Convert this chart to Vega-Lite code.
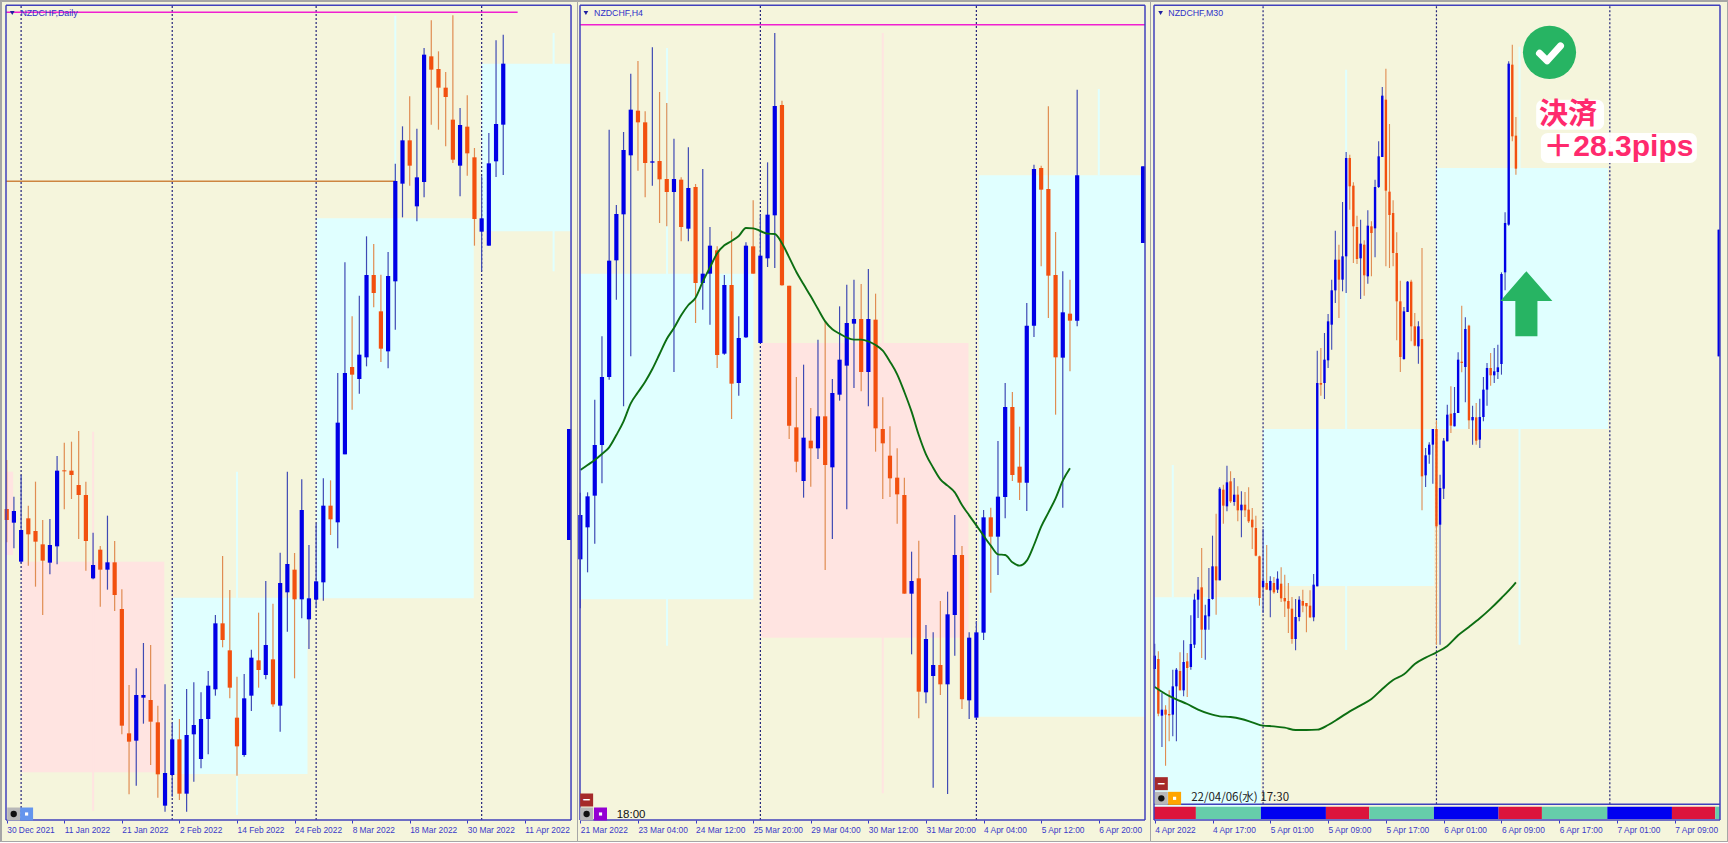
{"$schema":"https://vega.github.io/schema/vega-lite/v6.json","padding":0,"background":"#A6A6A6","spacing":0,"bounds":"flush","config":{"view":{"fill":"#F5F5DC","stroke":"#A6A6A6","strokeWidth":1}},
"datasets":{
"c1":[{"i":0,"o":933,"h":1080,"l":833,"c":900},{"i":1,"o":892,"h":970,"l":815,"c":927},{"i":2,"o":775,"h":1035,"l":770,"c":870},{"i":3,"o":905,"h":943,"l":763,"c":857},{"i":4,"o":867,"h":1015,"l":700,"c":835},{"i":5,"o":827,"h":900,"l":615,"c":778},{"i":6,"o":772,"h":903,"l":737,"c":825},{"i":7,"o":821,"h":1092,"l":767,"c":1048},{"i":8,"o":1049,"h":1132,"l":932,"c":1046},{"i":9,"o":1048,"h":1135,"l":963,"c":1035},{"i":10,"o":1005,"h":1167,"l":843,"c":975},{"i":11,"o":975,"h":1015,"l":748,"c":837},{"i":12,"o":725,"h":862,"l":722,"c":765},{"i":13,"o":811,"h":822,"l":640,"c":751},{"i":14,"o":751,"h":913,"l":691,"c":773},{"i":15,"o":773,"h":837,"l":627,"c":675},{"i":16,"o":633,"h":692,"l":257,"c":283},{"i":17,"o":260,"h":405,"l":77,"c":235},{"i":18,"o":238,"h":455,"l":103,"c":375},{"i":19,"o":367,"h":531,"l":289,"c":375},{"i":20,"o":360,"h":525,"l":165,"c":295},{"i":21,"o":293,"h":343,"l":67,"c":137},{"i":22,"o":43,"h":407,"l":25,"c":141},{"i":23,"o":135,"h":292,"l":70,"c":242},{"i":24,"o":242,"h":303,"l":60,"c":79},{"i":25,"o":79,"h":393,"l":25,"c":255},{"i":26,"o":257,"h":413,"l":115,"c":285},{"i":27,"o":183,"h":383,"l":155,"c":303},{"i":28,"o":303,"h":447,"l":197,"c":403},{"i":29,"o":392,"h":615,"l":373,"c":590},{"i":30,"o":590,"h":792,"l":518,"c":540},{"i":31,"o":509,"h":690,"l":365,"c":397},{"i":32,"o":307,"h":430,"l":133,"c":221},{"i":33,"o":195,"h":438,"l":190,"c":365},{"i":34,"o":373,"h":511,"l":327,"c":487},{"i":35,"o":479,"h":622,"l":397,"c":450},{"i":36,"o":435,"h":717,"l":422,"c":525},{"i":37,"o":482,"h":649,"l":340,"c":347},{"i":38,"o":343,"h":802,"l":265,"c":711},{"i":39,"o":683,"h":1045,"l":565,"c":768},{"i":40,"o":751,"h":801,"l":425,"c":662},{"i":41,"o":662,"h":1022,"l":605,"c":930},{"i":42,"o":602,"h":825,"l":513,"c":665},{"i":43,"o":661,"h":889,"l":635,"c":716},{"i":44,"o":713,"h":1025,"l":658,"c":943},{"i":45,"o":943,"h":1019,"l":855,"c":902},{"i":46,"o":893,"h":1341,"l":815,"c":1192},{"i":47,"o":1097,"h":1673,"l":1097,"c":1341},{"i":48,"o":1359,"h":1511,"l":1231,"c":1336},{"i":49,"o":1323,"h":1573,"l":1279,"c":1396},{"i":50,"o":1388,"h":1751,"l":1361,"c":1635},{"i":51,"o":1635,"h":1728,"l":1538,"c":1581},{"i":52,"o":1526,"h":1636,"l":1374,"c":1414},{"i":53,"o":1406,"h":1704,"l":1355,"c":1632},{"i":54,"o":1616,"h":1969,"l":1471,"c":1917},{"i":55,"o":1909,"h":2081,"l":1808,"c":2039},{"i":56,"o":2039,"h":2171,"l":1903,"c":1963},{"i":57,"o":1841,"h":2074,"l":1796,"c":1928},{"i":58,"o":1914,"h":2316,"l":1868,"c":2296},{"i":59,"o":2291,"h":2399,"l":2086,"c":2251},{"i":60,"o":2253,"h":2306,"l":2071,"c":2197},{"i":61,"o":2197,"h":2244,"l":2021,"c":2169},{"i":62,"o":2101,"h":2414,"l":1971,"c":1981},{"i":63,"o":1963,"h":2136,"l":1871,"c":2085},{"i":64,"o":2080,"h":2174,"l":1933,"c":2000},{"i":65,"o":1988,"h":2016,"l":1723,"c":1803},{"i":66,"o":1765,"h":1931,"l":1646,"c":1805},{"i":67,"o":1723,"h":2061,"l":1723,"c":1970},{"i":68,"o":1976,"h":2339,"l":1929,"c":2088},{"i":69,"o":2086,"h":2356,"l":1935,"c":2269},{"i":78.15,"o":840,"h":1173,"l":840,"c":1173}],
"c2":[{"i":0,"o":782,"h":982,"l":635,"c":915},{"i":1,"o":878,"h":983,"l":743,"c":971},{"i":2,"o":973,"h":1261,"l":829,"c":1125},{"i":3,"o":1125,"h":1451,"l":1010,"c":1329},{"i":4,"o":1329,"h":2071,"l":1321,"c":1678},{"i":5,"o":1679,"h":1845,"l":1561,"c":1818},{"i":6,"o":1817,"h":2064,"l":1241,"c":2010},{"i":7,"o":1994,"h":2239,"l":1391,"c":2131},{"i":8,"o":2128,"h":2277,"l":1948,"c":2093},{"i":9,"o":2093,"h":2126,"l":1868,"c":1971},{"i":10,"o":1972,"h":2318,"l":1903,"c":1976},{"i":11,"o":1977,"h":2184,"l":1791,"c":1922},{"i":12,"o":1923,"h":2151,"l":1781,"c":1884},{"i":13,"o":1884,"h":2044,"l":1344,"c":1923},{"i":14,"o":1921,"h":1928,"l":1736,"c":1779},{"i":15,"o":1774,"h":2018,"l":1736,"c":1896},{"i":16,"o":1899,"h":1908,"l":1491,"c":1611},{"i":17,"o":1611,"h":1953,"l":1531,"c":1639},{"i":18,"o":1639,"h":1779,"l":1486,"c":1723},{"i":19,"o":1709,"h":1721,"l":1356,"c":1395},{"i":20,"o":1399,"h":1635,"l":1396,"c":1605},{"i":21,"o":1605,"h":1766,"l":1203,"c":1309},{"i":22,"o":1311,"h":1511,"l":1273,"c":1446},{"i":23,"o":1448,"h":1733,"l":1446,"c":1723},{"i":24,"o":1721,"h":1859,"l":1639,"c":1639},{"i":25,"o":1431,"h":1816,"l":1431,"c":1693},{"i":26,"o":1685,"h":1973,"l":1659,"c":1816},{"i":27,"o":1814,"h":2361,"l":1656,"c":2142},{"i":28,"o":2145,"h":2158,"l":1603,"c":1604},{"i":29,"o":1603,"h":1603,"l":1143,"c":1183},{"i":30,"o":1178,"h":1329,"l":1043,"c":1075},{"i":31,"o":1017,"h":1366,"l":967,"c":1147},{"i":32,"o":1138,"h":1236,"l":1000,"c":1115},{"i":33,"o":1115,"h":1441,"l":1083,"c":1211},{"i":34,"o":1211,"h":1496,"l":750,"c":1065},{"i":35,"o":1058,"h":1323,"l":843,"c":1281},{"i":36,"o":1276,"h":1541,"l":1258,"c":1381},{"i":37,"o":1363,"h":1606,"l":932,"c":1491},{"i":38,"o":1489,"h":1621,"l":1296,"c":1503},{"i":39,"o":1503,"h":1608,"l":1286,"c":1344},{"i":40,"o":1344,"h":1653,"l":1241,"c":1503},{"i":41,"o":1501,"h":1579,"l":1105,"c":1175},{"i":42,"o":1173,"h":1268,"l":963,"c":1130},{"i":43,"o":1093,"h":1181,"l":969,"c":1025},{"i":44,"o":1027,"h":1115,"l":889,"c":977},{"i":45,"o":975,"h":1027,"l":679,"c":679},{"i":46,"o":679,"h":805,"l":497,"c":717},{"i":47,"o":725,"h":838,"l":305,"c":385},{"i":48,"o":383,"h":585,"l":350,"c":543},{"i":49,"o":432,"h":563,"l":97,"c":465},{"i":50,"o":465,"h":657,"l":375,"c":407},{"i":51,"o":407,"h":685,"l":78,"c":617},{"i":52,"o":615,"h":915,"l":493,"c":795},{"i":53,"o":795,"h":822,"l":333,"c":362},{"i":54,"o":359,"h":563,"l":303,"c":547},{"i":55,"o":307,"h":597,"l":307,"c":563},{"i":56,"o":562,"h":930,"l":540,"c":908},{"i":57,"o":908,"h":937,"l":682,"c":850},{"i":58,"o":850,"h":1137,"l":735,"c":970},{"i":59,"o":969,"h":1311,"l":905,"c":1239},{"i":60,"o":1239,"h":1284,"l":1017,"c":1035},{"i":61,"o":1060,"h":1180,"l":960,"c":1012},{"i":62,"o":1012,"h":1551,"l":927,"c":1483},{"i":63,"o":1483,"h":1966,"l":1449,"c":1953},{"i":64,"o":1956,"h":1963,"l":1661,"c":1891},{"i":65,"o":1893,"h":2141,"l":1506,"c":1633},{"i":66,"o":1635,"h":1764,"l":1216,"c":1388},{"i":67,"o":1387,"h":1646,"l":937,"c":1523},{"i":68,"o":1519,"h":1621,"l":1346,"c":1498},{"i":69,"o":1498,"h":2191,"l":1481,"c":1934},{"i":78.15,"o":1731,"h":1961,"l":1731,"c":1961}],
"c3":[{"i":0,"o":453,"h":529,"l":396,"c":493},{"i":1,"o":483,"h":506,"l":311,"c":319},{"i":2,"o":313,"h":381,"l":219,"c":331},{"i":3,"o":331,"h":344,"l":163,"c":316},{"i":4,"o":318,"h":389,"l":236,"c":314},{"i":5,"o":316,"h":451,"l":251,"c":401},{"i":6,"o":401,"h":456,"l":236,"c":451},{"i":7,"o":447,"h":503,"l":389,"c":389},{"i":8,"o":389,"h":539,"l":371,"c":474},{"i":9,"o":476,"h":501,"l":369,"c":456},{"i":10,"o":459,"h":614,"l":451,"c":528},{"i":11,"o":526,"h":679,"l":516,"c":661},{"i":12,"o":661,"h":729,"l":606,"c":691},{"i":13,"o":698,"h":816,"l":486,"c":571},{"i":14,"o":571,"h":646,"l":481,"c":614},{"i":15,"o":611,"h":756,"l":571,"c":663},{"i":16,"o":663,"h":853,"l":661,"c":761},{"i":17,"o":761,"h":919,"l":616,"c":719},{"i":18,"o":719,"h":999,"l":719,"c":994},{"i":19,"o":991,"h":1006,"l":889,"c":943},{"i":20,"o":941,"h":1063,"l":926,"c":1013},{"i":21,"o":1016,"h":1046,"l":951,"c":956},{"i":22,"o":954,"h":1026,"l":943,"c":976},{"i":23,"o":976,"h":1001,"l":896,"c":929},{"i":24,"o":929,"h":986,"l":848,"c":946},{"i":25,"o":946,"h":984,"l":909,"c":929},{"i":26,"o":931,"h":998,"l":891,"c":896},{"i":27,"o":901,"h":936,"l":813,"c":878},{"i":28,"o":876,"h":913,"l":791,"c":793},{"i":29,"o":791,"h":793,"l":643,"c":666},{"i":30,"o":699,"h":873,"l":621,"c":718},{"i":31,"o":711,"h":825,"l":691,"c":691},{"i":32,"o":689,"h":731,"l":608,"c":717},{"i":33,"o":711,"h":729,"l":679,"c":683},{"i":34,"o":691,"h":746,"l":681,"c":724},{"i":35,"o":709,"h":758,"l":654,"c":665},{"i":36,"o":666,"h":736,"l":609,"c":656},{"i":37,"o":657,"h":711,"l":561,"c":634},{"i":38,"o":634,"h":669,"l":529,"c":543},{"i":39,"o":543,"h":663,"l":509,"c":609},{"i":40,"o":609,"h":671,"l":596,"c":661},{"i":41,"o":657,"h":691,"l":623,"c":643},{"i":42,"o":651,"h":651,"l":563,"c":641},{"i":43,"o":643,"h":689,"l":606,"c":608},{"i":44,"o":608,"h":738,"l":596,"c":706},{"i":45,"o":701,"h":1408,"l":701,"c":1311},{"i":46,"o":1311,"h":1416,"l":1273,"c":1306},{"i":47,"o":1311,"h":1461,"l":1263,"c":1381},{"i":48,"o":1379,"h":1518,"l":1356,"c":1496},{"i":49,"o":1486,"h":1621,"l":1411,"c":1589},{"i":50,"o":1589,"h":1768,"l":1551,"c":1681},{"i":51,"o":1681,"h":1726,"l":1506,"c":1621},{"i":52,"o":1621,"h":1854,"l":1586,"c":1691},{"i":53,"o":1691,"h":2004,"l":1581,"c":1986},{"i":54,"o":1986,"h":1996,"l":1831,"c":1901},{"i":55,"o":1903,"h":1913,"l":1671,"c":1781},{"i":56,"o":1779,"h":1813,"l":1668,"c":1683},{"i":57,"o":1685,"h":1801,"l":1563,"c":1729},{"i":58,"o":1726,"h":1739,"l":1573,"c":1634},{"i":59,"o":1631,"h":1829,"l":1609,"c":1783},{"i":60,"o":1781,"h":1796,"l":1631,"c":1761},{"i":61,"o":1775,"h":1921,"l":1688,"c":1899},{"i":62,"o":1899,"h":2036,"l":1896,"c":1991},{"i":63,"o":1989,"h":2199,"l":1989,"c":2173},{"i":64,"o":2161,"h":2254,"l":1661,"c":1888},{"i":65,"o":1885,"h":2088,"l":1656,"c":1815},{"i":66,"o":1821,"h":1859,"l":1661,"c":1701},{"i":67,"o":1701,"h":1763,"l":1439,"c":1556},{"i":68,"o":1556,"h":1618,"l":1344,"c":1389},{"i":69,"o":1383,"h":1539,"l":1381,"c":1526},{"i":70,"o":1524,"h":1617,"l":1524,"c":1615},{"i":71,"o":1615,"h":1621,"l":1436,"c":1481},{"i":72,"o":1481,"h":1521,"l":1421,"c":1423},{"i":73,"o":1421,"h":1496,"l":1369,"c":1481},{"i":74,"o":1443,"h":1716,"l":929,"c":1031},{"i":75,"o":1034,"h":1116,"l":999,"c":1094},{"i":76,"o":1096,"h":1133,"l":1069,"c":1126},{"i":77,"o":1126,"h":1173,"l":1009,"c":1173},{"i":78,"o":1173,"h":1199,"l":526,"c":881},{"i":79,"o":886,"h":1036,"l":526,"c":996},{"i":80,"o":994,"h":1146,"l":963,"c":1138},{"i":81,"o":1136,"h":1246,"l":1136,"c":1216},{"i":82,"o":1219,"h":1301,"l":1161,"c":1183},{"i":83,"o":1181,"h":1299,"l":1181,"c":1221},{"i":84,"o":1221,"h":1403,"l":1221,"c":1381},{"i":85,"o":1375,"h":1543,"l":1343,"c":1371},{"i":86,"o":1359,"h":1508,"l":1253,"c":1473},{"i":87,"o":1483,"h":1486,"l":1173,"c":1199},{"i":88,"o":1199,"h":1243,"l":1126,"c":1209},{"i":89,"o":1208,"h":1251,"l":1126,"c":1138},{"i":90,"o":1141,"h":1264,"l":1116,"c":1209},{"i":91,"o":1209,"h":1329,"l":1196,"c":1291},{"i":92,"o":1291,"h":1371,"l":1243,"c":1356},{"i":93,"o":1356,"h":1401,"l":1303,"c":1334},{"i":94,"o":1334,"h":1416,"l":1311,"c":1346},{"i":95,"o":1344,"h":1426,"l":1323,"c":1358},{"i":96,"o":1368,"h":1643,"l":1336,"c":1638},{"i":97,"o":1643,"h":1823,"l":1589,"c":1791},{"i":98,"o":1786,"h":2276,"l":1783,"c":2269},{"i":99,"o":2266,"h":2326,"l":2036,"c":2051},{"i":100,"o":2053,"h":2109,"l":1936,"c":1954},{"i":156.15,"o":1391,"h":1771,"l":1391,"c":1771}],
"m2":[{"i":0,"v":1050},{"i":1,"v":1065},{"i":2,"v":1080},{"i":3,"v":1098},{"i":4,"v":1118},{"i":5,"v":1155},{"i":6,"v":1196},{"i":7,"v":1250},{"i":8,"v":1283},{"i":9,"v":1315},{"i":10,"v":1353},{"i":11,"v":1398},{"i":12,"v":1443},{"i":13,"v":1476},{"i":14,"v":1514},{"i":15,"v":1545},{"i":16,"v":1567},{"i":17,"v":1615},{"i":18,"v":1658},{"i":19,"v":1700},{"i":20,"v":1724},{"i":21,"v":1737},{"i":22,"v":1752},{"i":23,"v":1776},{"i":24,"v":1775},{"i":25,"v":1767},{"i":26,"v":1759},{"i":27,"v":1758},{"i":28,"v":1730},{"i":29,"v":1688},{"i":30,"v":1644},{"i":31,"v":1607},{"i":32,"v":1571},{"i":33,"v":1533},{"i":34,"v":1496},{"i":35,"v":1472},{"i":36,"v":1459},{"i":37,"v":1447},{"i":38,"v":1441},{"i":39,"v":1441},{"i":40,"v":1436},{"i":41,"v":1425},{"i":42,"v":1408},{"i":43,"v":1375},{"i":44,"v":1337},{"i":45,"v":1284},{"i":46,"v":1225},{"i":47,"v":1155},{"i":48,"v":1097},{"i":49,"v":1057},{"i":50,"v":1022},{"i":51,"v":1003},{"i":52,"v":983},{"i":53,"v":945},{"i":54,"v":914},{"i":55,"v":884},{"i":56,"v":853},{"i":57,"v":823},{"i":58,"v":797},{"i":59,"v":795},{"i":60,"v":773},{"i":61,"v":763},{"i":62,"v":778},{"i":63,"v":825},{"i":64,"v":880},{"i":65,"v":922},{"i":66,"v":965},{"i":67,"v":1018},{"i":68,"v":1055}],
"m3":[{"i":0,"v":399},{"i":3,"v":378},{"i":6,"v":362},{"i":9,"v":348},{"i":12,"v":331},{"i":15,"v":319},{"i":18,"v":311},{"i":21,"v":309},{"i":24,"v":303},{"i":27,"v":293},{"i":30,"v":283},{"i":33,"v":281},{"i":36,"v":277},{"i":39,"v":270},{"i":42,"v":270},{"i":45,"v":271},{"i":48,"v":285},{"i":51,"v":305},{"i":54,"v":326},{"i":57,"v":344},{"i":60,"v":363},{"i":63,"v":393},{"i":66,"v":420},{"i":69,"v":437},{"i":72,"v":468},{"i":75,"v":487},{"i":78,"v":503},{"i":81,"v":522},{"i":84,"v":554},{"i":87,"v":579},{"i":90,"v":605},{"i":93,"v":634},{"i":96,"v":666},{"i":99,"v":700},{"i":100,"v":713}],
"z1":[{"i":43.06,"i2":64.9,"v":1805,"v2":665,"k":"bull"},{"i":66,"i2":78.42,"v":2269,"v2":1766,"k":"bull"},{"i":2.04,"i2":21.9,"v":775,"v2":143,"k":"bear"},{"i":23.06,"i2":41.8,"v":667,"v2":138,"k":"bull"},{"i":-0.1,"i2":0.9,"v":1045,"v2":795,"k":"bear"}],
"z2":[{"i":-0.05,"i2":24.03,"v":1639,"v2":662,"k":"bull"},{"i":25.1,"i2":53.9,"v":1431,"v2":547,"k":"bear"},{"i":55.36,"i2":78.42,"v":1934,"v2":310,"k":"bull"}],
"z3":[{"i":-0.2,"i2":29.4,"v":668,"v2":0,"k":"bull"},{"i":30,"i2":77.3,"v":1173,"v2":702,"k":"bull"},{"i":77.9,"i2":125.5,"v":1956,"v2":1173,"k":"bull"}],
"w1":[{"i":54,"v":2413,"v2":1805,"k":"bull"},{"i":76,"v":2361,"v2":1646,"k":"bull"},{"i":12,"v":1165,"v2":27,"k":"bear"},{"i":32,"v":1045,"v2":15,"k":"bull"}],
"w2":[{"i":12.04,"v":2316,"v2":523,"k":"bull"},{"i":42,"v":2361,"v2":80,"k":"bear"},{"i":72,"v":2193,"v2":1934,"k":"bull"}],
"w3":[{"i":5,"v":1065,"v2":668,"k":"bull"},{"i":53,"v":2251,"v2":510,"k":"bull"},{"i":101,"v":2320,"v2":526,"k":"bull"}],
"v1":[{"i":2,"v":0,"v2":2444},{"i":23,"v":0,"v2":2444},{"i":43,"v":0,"v2":2444},{"i":66,"v":0,"v2":2444}],
"v2":[{"i":25,"v":0,"v2":2444},{"i":55,"v":0,"v2":2444}],
"v3":[{"i":30,"v":47,"v2":2444},{"i":78,"v":47,"v2":2444},{"i":126,"v":47,"v2":2444}],
"h1":[{"i":-0.1,"i2":54,"v":1916,"k":"brown"},{"i":-0.1,"i2":71,"v":2423,"k":"magenta"}],
"h2":[{"i":-0.05,"i2":78.42,"v":2386,"k":"magenta"}],
"f1":[{"i":-0.1,"i2":-0.1,"v":0,"v2":2444},{"i":78.42,"i2":78.42,"v":0,"v2":2444},{"i":-0.1,"i2":78.42,"v":2444,"v2":2444},{"i":-0.1,"i2":78.42,"v":0,"v2":0}],
"f2":[{"i":-0.05,"i2":-0.05,"v":0,"v2":2444},{"i":78.42,"i2":78.42,"v":0,"v2":2444},{"i":-0.05,"i2":78.42,"v":2444,"v2":2444},{"i":-0.05,"i2":78.42,"v":0,"v2":0}],
"f3":[{"i":-0.2,"i2":-0.2,"v":0,"v2":2444},{"i":156.5,"i2":156.5,"v":0,"v2":2444},{"i":-0.2,"i2":156.5,"v":2444,"v2":2444},{"i":-0.2,"i2":156.5,"v":0,"v2":0},{"i":-0.2,"i2":156.5,"v":47,"v2":47}],
"s3":[{"i":-0.2,"i2":11.4,"v":3,"v2":40,"k":"sRed"},{"i":11.4,"i2":29.4,"v":3,"v2":40,"k":"sGreen"},{"i":29.4,"i2":47.4,"v":3,"v2":40,"k":"sBlue"},{"i":47.4,"i2":59.4,"v":3,"v2":40,"k":"sRed"},{"i":59.4,"i2":77.3,"v":3,"v2":40,"k":"sGreen"},{"i":77.3,"i2":95.2,"v":3,"v2":40,"k":"sBlue"},{"i":95.2,"i2":107.2,"v":3,"v2":40,"k":"sRed"},{"i":107.2,"i2":125.3,"v":3,"v2":40,"k":"sGreen"},{"i":125.3,"i2":143.2,"v":3,"v2":40,"k":"sBlue"},{"i":143.2,"i2":155.2,"v":3,"v2":40,"k":"sRed"},{"i":155.2,"i2":156.5,"v":3,"v2":40,"k":"sGreen"}],
"b1":[{"i":0.97,"v":18,"k":"btnGray"},{"i":2.76,"v":18,"k":"btnBlue"}],
"b2":[{"i":0.87,"v":18,"k":"btnGray"},{"i":2.8,"v":18,"k":"btnPurple"},{"i":0.87,"v":60,"k":"btnRed"}],
"b3":[{"i":1.83,"v":65,"k":"btnGray"},{"i":5.5,"v":65,"k":"btnOrange"},{"i":1.83,"v":109,"k":"btnRed"}]
},
"hconcat":[
{"width":576,"height":840,"encoding":{"x":{"field":"i","type":"quantitative","scale":{"domain":[-0.795,79.25],"nice":false,"zero":false},"axis":{"title":null,"grid":false,"offset":-21,"domain":false,"values":[0,8,16,24,32,40,48,56,64,72],"labelExpr":"['30 Dec 2021','11 Jan 2022','21 Jan 2022','2 Feb 2022','14 Feb 2022','24 Feb 2022','8 Mar 2022','18 Mar 2022','30 Mar 2022','11 Apr 2022'][datum.value/8]","labelAlign":"left","labelBaseline":"middle","labelPadding":6,"labelFont":"Liberation Sans","labelFontSize":8.4,"labelColor":"#3A3AC8","labelOverlap":false,"labelFlush":false,"tickSize":3,"tickColor":"#3A3AC8"}},"y":{"field":"v","type":"quantitative","scale":{"domain":[-63,2457],"nice":false,"zero":false},"axis":null},"color":{"field":"k","type":"nominal","legend":null,"scale":{"domain":["bull","bear","magenta","brown","sRed","sGreen","sBlue","btnGray","btnBlue","btnPurple","btnOrange","btnRed"],"range":["#E0FFFF","#FFE4E1","#F020D0","#CD8540","#DC143C","#66CDAA","#0000F0","#B8B8B8","#6495ED","#9400D3","#FFA500","#A52A2A"]}}},
"layer":[
{"data":{"name":"z1"},"mark":{"type":"rect"},"encoding":{"x2":{"field":"i2"},"y2":{"field":"v2"}}},
{"data":{"name":"w1"},"mark":{"type":"rule","strokeWidth":2},"encoding":{"y2":{"field":"v2"}}},
{"data":{"name":"v1"},"mark":{"type":"rule","strokeWidth":1.2,"strokeDash":[2,2]},"encoding":{"y2":{"field":"v2"},"color":{"value":"#23237A"}}},
{"data":{"name":"h1"},"mark":{"type":"rule","strokeWidth":1.5},"encoding":{"x2":{"field":"i2"}}},
{"data":{"name":"c1"},"mark":{"type":"rule","strokeWidth":1.2},"encoding":{"y":{"field":"h","type":"quantitative","scale":{"domain":[-63,2457],"nice":false,"zero":false},"axis":null},"y2":{"field":"l"},"color":{"condition":{"test":"datum.c>=datum.o","value":"#3F4AB4"},"value":"#E08C52"}}},
{"data":{"name":"c1"},"mark":{"type":"rule","strokeWidth":4.2},"encoding":{"y":{"field":"o","type":"quantitative","scale":{"domain":[-63,2457],"nice":false,"zero":false},"axis":null},"y2":{"field":"c"},"color":{"condition":{"test":"datum.c>=datum.o","value":"#0000E6"},"value":"#F2500F"}}},
{"data":{"name":"f1"},"mark":{"type":"rule","strokeWidth":1.5},"encoding":{"x2":{"field":"i2"},"y2":{"field":"v2"},"color":{"value":"#4040BC"}}},
{"data":{"name":"b1"},"mark":{"type":"point","filled":true,"shape":"square","size":169,"opacity":1}},
{"data":{"values":[{"i":0.97,"v":18}]},"mark":{"type":"point","filled":true,"shape":"circle","size":40,"opacity":1},"encoding":{"color":{"value":"#111111"}}},
{"data":{"values":[{"i":2.76,"v":18}]},"mark":{"type":"point","filled":true,"shape":"square","size":10,"opacity":1},"encoding":{"color":{"value":"#FFFFFF"}}},
{"data":{"values":[{"i":0.77,"v":2421}]},"mark":{"type":"point","filled":true,"shape":"triangle-down","size":22,"opacity":1},"encoding":{"color":{"value":"#2020A0"}}},
{"data":{"values":[{"i":1.9,"v":2421,"t":"NZDCHF,Daily"}]},"mark":{"type":"text","align":"left","baseline":"middle","font":"Liberation Sans","fontSize":8.8},"encoding":{"text":{"field":"t"},"color":{"value":"#3030C8"}}}
]},
{"width":573,"height":840,"encoding":{"x":{"field":"i","type":"quantitative","scale":{"domain":[-0.467,79.114],"nice":false,"zero":false},"axis":{"title":null,"grid":false,"offset":-21,"domain":false,"values":[0,8,16,24,32,40,48,56,64,72],"labelExpr":"['21 Mar 2022','23 Mar 04:00','24 Mar 12:00','25 Mar 20:00','29 Mar 04:00','30 Mar 12:00','31 Mar 20:00','4 Apr 04:00','5 Apr 12:00','6 Apr 20:00'][datum.value/8]","labelAlign":"left","labelBaseline":"middle","labelPadding":6,"labelFont":"Liberation Sans","labelFontSize":8.4,"labelColor":"#3A3AC8","labelOverlap":false,"labelFlush":false,"tickSize":3,"tickColor":"#3A3AC8"}},"y":{"field":"v","type":"quantitative","scale":{"domain":[-63,2457],"nice":false,"zero":false},"axis":null},"color":{"field":"k","type":"nominal","legend":null,"scale":{"domain":["bull","bear","magenta","brown","sRed","sGreen","sBlue","btnGray","btnBlue","btnPurple","btnOrange","btnRed"],"range":["#E0FFFF","#FFE4E1","#F020D0","#CD8540","#DC143C","#66CDAA","#0000F0","#B8B8B8","#6495ED","#9400D3","#FFA500","#A52A2A"]}}},
"layer":[
{"data":{"name":"z2"},"mark":{"type":"rect"},"encoding":{"x2":{"field":"i2"},"y2":{"field":"v2"}}},
{"data":{"name":"w2"},"mark":{"type":"rule","strokeWidth":2},"encoding":{"y2":{"field":"v2"}}},
{"data":{"name":"v2"},"mark":{"type":"rule","strokeWidth":1.2,"strokeDash":[2,2]},"encoding":{"y2":{"field":"v2"},"color":{"value":"#23237A"}}},
{"data":{"name":"h2"},"mark":{"type":"rule","strokeWidth":1.5},"encoding":{"x2":{"field":"i2"}}},
{"data":{"name":"c2"},"mark":{"type":"rule","strokeWidth":1.2},"encoding":{"y":{"field":"h","type":"quantitative","scale":{"domain":[-63,2457],"nice":false,"zero":false},"axis":null},"y2":{"field":"l"},"color":{"condition":{"test":"datum.c>=datum.o","value":"#3F4AB4"},"value":"#E08C52"}}},
{"data":{"name":"c2"},"mark":{"type":"rule","strokeWidth":4.2},"encoding":{"y":{"field":"o","type":"quantitative","scale":{"domain":[-63,2457],"nice":false,"zero":false},"axis":null},"y2":{"field":"c"},"color":{"condition":{"test":"datum.c>=datum.o","value":"#0000E6"},"value":"#F2500F"}}},
{"data":{"name":"m2"},"mark":{"type":"line","strokeWidth":1.9,"interpolate":"monotone"},"encoding":{"color":{"value":"#0C6E12"}}},
{"data":{"name":"f2"},"mark":{"type":"rule","strokeWidth":1.5},"encoding":{"x2":{"field":"i2"},"y2":{"field":"v2"},"color":{"value":"#4040BC"}}},
{"data":{"name":"b2"},"mark":{"type":"point","filled":true,"shape":"square","size":169,"opacity":1}},
{"data":{"values":[{"i":0.87,"v":18}]},"mark":{"type":"point","filled":true,"shape":"circle","size":40,"opacity":1},"encoding":{"color":{"value":"#111111"}}},
{"data":{"values":[{"i":2.8,"v":18}]},"mark":{"type":"point","filled":true,"shape":"square","size":10,"opacity":1},"encoding":{"color":{"value":"#FFFFFF"}}},
{"data":{"values":[{"i":0.87,"v":60,"t":"−"}]},"mark":{"type":"text","align":"center","baseline":"middle","font":"Liberation Sans","fontSize":13,"fontWeight":"bold"},"encoding":{"text":{"field":"t"},"color":{"value":"#FFFFFF"}}},
{"data":{"values":[{"i":0.77,"v":2421}]},"mark":{"type":"point","filled":true,"shape":"triangle-down","size":22,"opacity":1},"encoding":{"color":{"value":"#2020A0"}}},
{"data":{"values":[{"i":1.9,"v":2421,"t":"NZDCHF,H4"}]},"mark":{"type":"text","align":"left","baseline":"middle","font":"Liberation Sans","fontSize":8.8},"encoding":{"text":{"field":"t"},"color":{"value":"#3030C8"}}},
{"data":{"values":[{"i":5.05,"v":15,"t":"18:00"}]},"mark":{"type":"text","align":"left","baseline":"middle","font":"Liberation Sans","fontSize":11.5},"encoding":{"text":{"field":"t"},"color":{"value":"#111111"}}}
]},
{"width":577,"height":840,"encoding":{"x":{"field":"i","type":"quantitative","scale":{"domain":[-1.307,158.44],"nice":false,"zero":false},"axis":{"title":null,"grid":false,"offset":-21,"domain":false,"values":[0,16,32,48,64,80,96,112,128,144],"labelExpr":"['4 Apr 2022','4 Apr 17:00','5 Apr 01:00','5 Apr 09:00','5 Apr 17:00','6 Apr 01:00','6 Apr 09:00','6 Apr 17:00','7 Apr 01:00','7 Apr 09:00'][datum.value/16]","labelAlign":"left","labelBaseline":"middle","labelPadding":6,"labelFont":"Liberation Sans","labelFontSize":8.4,"labelColor":"#3A3AC8","labelOverlap":false,"labelFlush":false,"tickSize":3,"tickColor":"#3A3AC8"}},"y":{"field":"v","type":"quantitative","scale":{"domain":[-63,2457],"nice":false,"zero":false},"axis":null},"color":{"field":"k","type":"nominal","legend":null,"scale":{"domain":["bull","bear","magenta","brown","sRed","sGreen","sBlue","btnGray","btnBlue","btnPurple","btnOrange","btnRed"],"range":["#E0FFFF","#FFE4E1","#F020D0","#CD8540","#DC143C","#66CDAA","#0000F0","#B8B8B8","#6495ED","#9400D3","#FFA500","#A52A2A"]}}},
"layer":[
{"data":{"name":"z3"},"mark":{"type":"rect"},"encoding":{"x2":{"field":"i2"},"y2":{"field":"v2"}}},
{"data":{"name":"w3"},"mark":{"type":"rule","strokeWidth":2},"encoding":{"y2":{"field":"v2"}}},
{"data":{"name":"v3"},"mark":{"type":"rule","strokeWidth":1.2,"strokeDash":[2,2]},"encoding":{"y2":{"field":"v2"},"color":{"value":"#23237A"}}},
{"data":{"name":"c3"},"mark":{"type":"rule","strokeWidth":1.1},"encoding":{"y":{"field":"h","type":"quantitative","scale":{"domain":[-63,2457],"nice":false,"zero":false},"axis":null},"y2":{"field":"l"},"color":{"condition":{"test":"datum.c>=datum.o","value":"#3F4AB4"},"value":"#E08C52"}}},
{"data":{"name":"c3"},"mark":{"type":"rule","strokeWidth":2.4},"encoding":{"y":{"field":"o","type":"quantitative","scale":{"domain":[-63,2457],"nice":false,"zero":false},"axis":null},"y2":{"field":"c"},"color":{"condition":{"test":"datum.c>=datum.o","value":"#0000E6"},"value":"#F2500F"}}},
{"data":{"name":"m3"},"mark":{"type":"line","strokeWidth":1.9,"interpolate":"monotone"},"encoding":{"color":{"value":"#0C6E12"}}},
{"data":{"name":"s3"},"mark":{"type":"rect"},"encoding":{"x2":{"field":"i2"},"y2":{"field":"v2"}}},
{"data":{"name":"f3"},"mark":{"type":"rule","strokeWidth":1.5},"encoding":{"x2":{"field":"i2"},"y2":{"field":"v2"},"color":{"value":"#4040BC"}}},
{"data":{"name":"b3"},"mark":{"type":"point","filled":true,"shape":"square","size":169,"opacity":1}},
{"data":{"values":[{"i":1.83,"v":65}]},"mark":{"type":"point","filled":true,"shape":"circle","size":40,"opacity":1},"encoding":{"color":{"value":"#111111"}}},
{"data":{"values":[{"i":5.5,"v":65}]},"mark":{"type":"point","filled":true,"shape":"square","size":10,"opacity":1},"encoding":{"color":{"value":"#FFFFFF"}}},
{"data":{"values":[{"i":1.83,"v":109,"t":"−"}]},"mark":{"type":"text","align":"center","baseline":"middle","font":"Liberation Sans","fontSize":13,"fontWeight":"bold"},"encoding":{"text":{"field":"t"},"color":{"value":"#FFFFFF"}}},
{"data":{"values":[{"i":1.63,"v":2421}]},"mark":{"type":"point","filled":true,"shape":"triangle-down","size":22,"opacity":1},"encoding":{"color":{"value":"#2020A0"}}},
{"data":{"values":[{"i":3.77,"v":2421,"t":"NZDCHF,M30"}]},"mark":{"type":"text","align":"left","baseline":"middle","font":"Liberation Sans","fontSize":8.8},"encoding":{"text":{"field":"t"},"color":{"value":"#3030C8"}}},
{"data":{"values":[{"i":10.08,"v":65,"t":"22/04/06(水) 17:30"}]},"mark":{"type":"text","align":"left","baseline":"middle","font":"Noto Sans CJK JP","fontSize":11.5},"encoding":{"text":{"field":"t"},"color":{"value":"#222222"}}},
{"data":{"values":[{"i":109.3,"v":2303}]},"mark":{"type":"point","filled":true,"shape":"circle","size":2827,"opacity":1},"encoding":{"color":{"value":"#27B463"}}},
{"data":{"values":[{"i":109.3,"v":2303}]},"mark":{"type":"point","filled":false,"shape":"M -0.5 0.05 L -0.12 0.42 L 0.55 -0.32","size":1600,"opacity":1,"strokeWidth":7,"strokeCap":"round","strokeJoin":"round"},"encoding":{"color":{"value":"#FFFFFF"}}},
{"data":{"values":[{"i":102.9,"v":1549}]},"mark":{"type":"point","filled":true,"shape":"M 0 -1 L 0.8 -0.08 L 0.34 -0.08 L 0.34 1 L -0.34 1 L -0.34 -0.08 L -0.8 -0.08 Z","size":4225,"opacity":1},"encoding":{"color":{"value":"#27B463"}}},
{"data":{"values":[{"i":105.6,"i2":124.4,"v":2161,"v2":2071},{"i":106.9,"i2":150.1,"v":2061,"v2":1971}]},"mark":{"type":"rect","cornerRadius":7,"opacity":0.95},"encoding":{"x2":{"field":"i2"},"y2":{"field":"v2"},"color":{"value":"#FFFFFF"}}},
{"data":{"values":[{"i":106.4,"v":2116,"t":"決済"}]},"mark":{"type":"text","align":"left","baseline":"middle","font":"Noto Sans CJK JP","fontSize":29,"fontWeight":"bold"},"encoding":{"text":{"field":"t"},"color":{"value":"#FF2A6D"}}},
{"data":{"values":[{"i":107.6,"v":2018,"t":"＋28.3pips"}]},"mark":{"type":"text","align":"left","baseline":"middle","font":"Liberation Sans, Noto Sans CJK JP","fontSize":30,"fontWeight":"bold"},"encoding":{"text":{"field":"t"},"color":{"value":"#FF2A6D"}}}
]}
]}
